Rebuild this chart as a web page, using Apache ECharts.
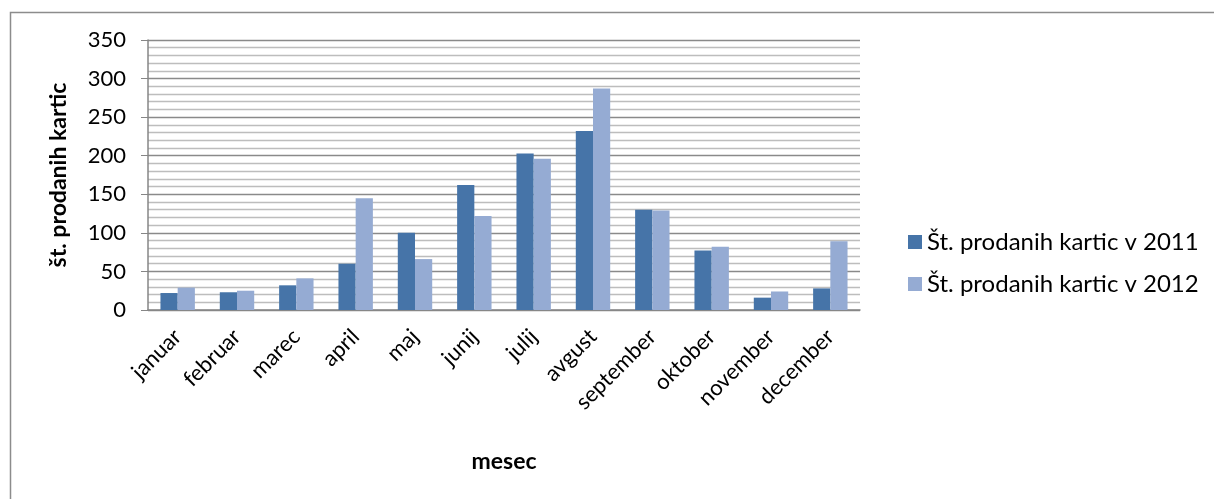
<!DOCTYPE html>
<html>
<head>
<meta charset="utf-8">
<script src="https://cdn.jsdelivr.net/npm/echarts@6/dist/echarts.min.js"></script>
<style>
  html, body { margin: 0; padding: 0; background: #fff; }
  #myChart { width: 1214px; height: 499px; }
</style>
</head>
<body>
<div id="myChart"></div>
<script>
// podatki
const months = ['januar', 'februar', 'marec', 'april', 'maj', 'junij', 'julij', 'avgust', 'september', 'oktober', 'november', 'december']
const sales2011 = [22, 23, 32, 60, 100, 162, 203, 232, 130, 77, 16, 28]
const sales2012 = [29, 25, 41, 145, 66, 122, 196, 287, 129, 82, 24, 89]
const seriesNames = ['Št. prodanih kartic v 2011', 'Št. prodanih kartic v 2012']

const font = 'Lato, "Open Sans", sans-serif'

let chart = echarts.init(document.getElementById('myChart'))
chart.setOption({
  animation: false,
  textStyle: { fontFamily: font },
  graphic: [
    {
      type: 'rect',
      left: 8, top: 10,
      shape: { width: 1230, height: 520 },
      style: { fill: 'none', stroke: '#8c8c8c', lineWidth: 1.5 },
      silent: true
    }
  ],
  legend: {
    orient: 'vertical',
    left: 903,
    top: 225,
    icon: 'rect',
    itemWidth: 14,
    itemHeight: 14,
    itemGap: 18,
    textStyle: { fontSize: 24, color: '#000', fontFamily: font },
    data: seriesNames
  },
  grid: { left: 148, right: 354, top: 40, bottom: 189 },
  xAxis: {
    type: 'category',
    data: months,
    name: 'mesec',
    nameLocation: 'middle',
    nameGap: 140,
    nameTextStyle: { fontSize: 23, fontWeight: 'bold', color: '#000', fontFamily: font },
    axisLine: { lineStyle: { color: '#868686', width: 1.5 } },
    axisTick: { show: false },
    axisLabel: { rotate: 45, fontSize: 22, color: '#000', margin: 23, fontFamily: font, interval: 0 }
  },
  yAxis: {
    type: 'value',
    min: 0, max: 350, interval: 50,
    name: 'št. prodanih kartic',
    nameLocation: 'middle',
    nameGap: 78,
    nameTextStyle: { fontSize: 23, fontWeight: 'bold', color: '#000', fontFamily: font },
    axisLine: { show: true, lineStyle: { color: '#868686', width: 1.5 } },
    axisTick: { show: true, length: 7, lineStyle: { color: '#868686' } },
    axisLabel: { fontSize: 22, color: '#000', margin: 22, fontFamily: font },
    splitLine: { lineStyle: { color: '#8a8a8a', width: 1.3 } },
    minorTick: { show: false, splitNumber: 5 },
    minorSplitLine: { show: true, lineStyle: { color: '#bdbdbd', width: 1.3 } }
  },
  series: [
    {
      name: seriesNames[0],
      type: 'bar',
      data: sales2011,
      barGap: '0%',
      barCategoryGap: '42%',
      itemStyle: { color: '#4674a8' }
    },
    {
      name: seriesNames[1],
      type: 'bar',
      data: sales2012,
      itemStyle: { color: '#95abd3' }
    }
  ]
})
</script>
</body>
</html>
